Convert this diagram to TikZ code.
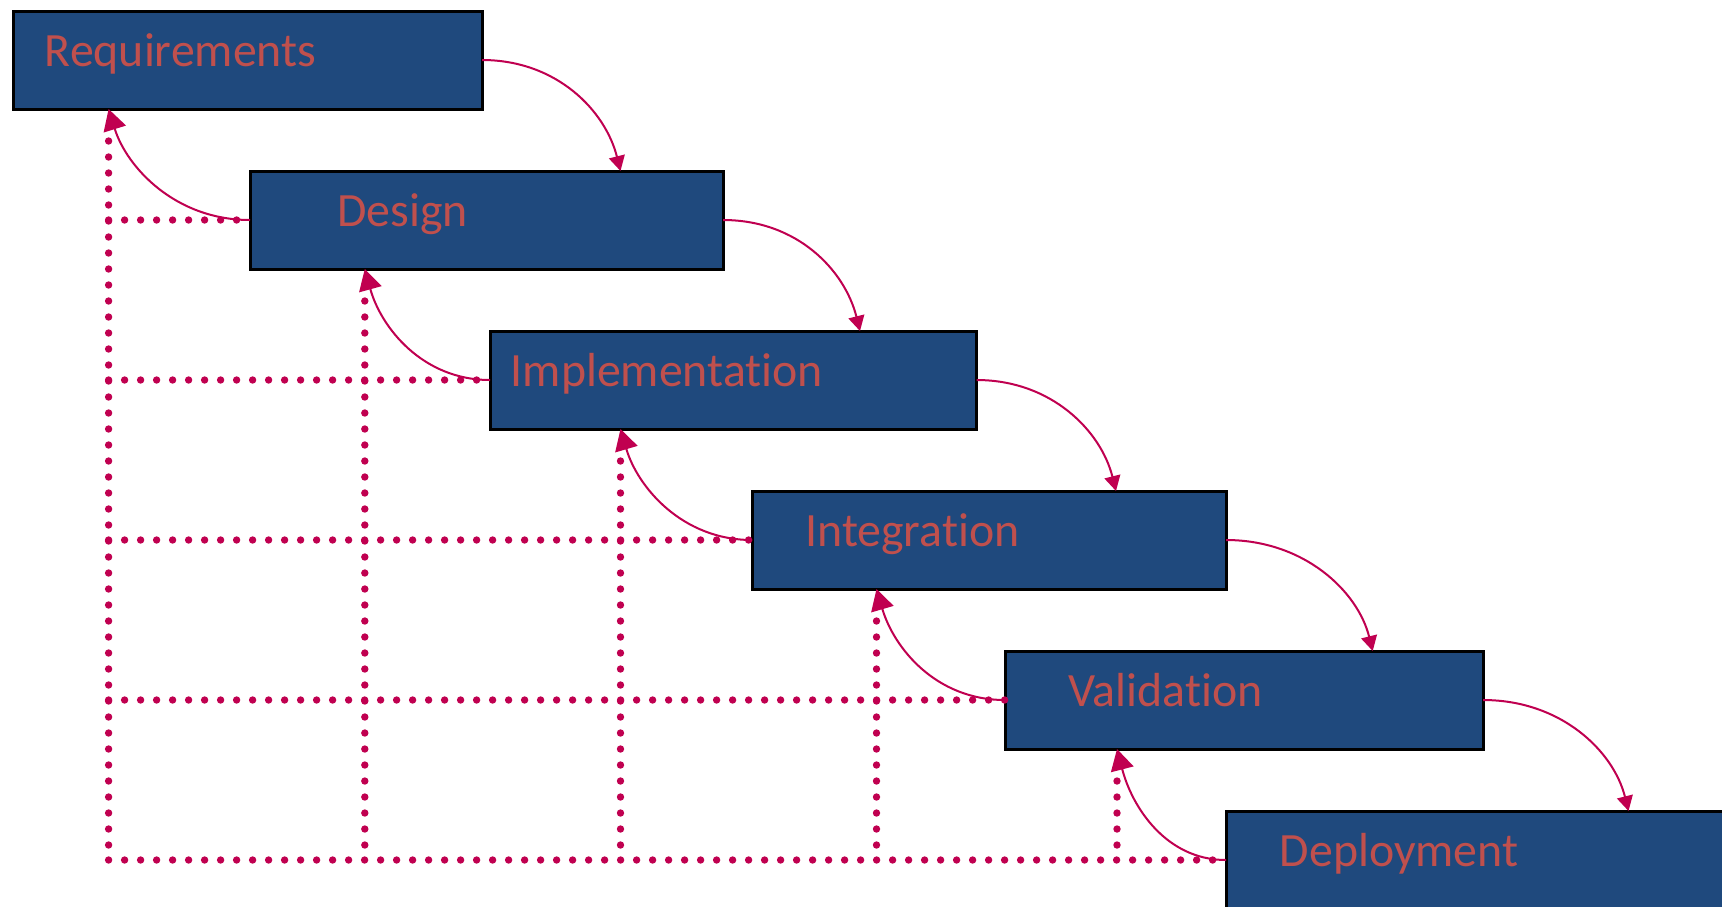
\documentclass[tikz,border=0pt]{standalone}
\usepackage{fontspec}
\newfontfamily\boxfont[Ligatures=NoCommon]{Carlito}
\usetikzlibrary{arrows.meta,calc}
\definecolor{boxblue}{RGB}{31,73,125}
\definecolor{lblred}{RGB}{192,80,77}
\definecolor{flowred}{RGB}{192,0,80}
\begin{document}
\begin{tikzpicture}[x=0.5pt,y=-0.5pt,
 box/.style={draw=black,line width=1.5pt,fill=boxblue,inner sep=0pt,outer sep=0pt,minimum height=49pt},
 lbl/.style={text=lblred,font=\boxfont\fontsize{23.9}{28}\selectfont,inner sep=0pt,anchor=base west},
 fwd/.style={draw=flowred,line width=1pt,-{Triangle[length=7.5pt,width=8pt]}},
 back/.style={draw=flowred,line width=1pt,-{Triangle[length=10.5pt,width=11.5pt]}},
 dots/.style={draw=flowred,line width=3.7pt,line cap=round,dash pattern=on 0pt off 8pt}]
\useasboundingbox (0,0) rectangle (1722,906);
\clip (0,0) rectangle (1722,906);
\fill[white] (0,0) rectangle (1722,906);
% boxes
\node[box,minimum width=234.5pt] (req) at (247.5,60) {};
\node[box,minimum width=236.5pt] (des) at (486.5,220) {};
\node[box,minimum width=243.25pt] (imp) at (733.25,380) {};
\node[box,minimum width=237pt] (int) at (989,540) {};
\node[box,minimum width=239pt] (val) at (1244,700) {};
\node[box,minimum width=300pt] (dep) at (1526,860) {};
% labels
\node[lbl] (reqt) at ($(req.north west)+(31.5,55.5)$) {Requirements};
\node[lbl] (dest) at ($(des.north west)+(87,55.5)$) {Design};
\node[lbl] (impt) at ($(imp.north west)+(20.5,55.5)$) {Implementation};
\node[lbl] (intt) at ($(int.north west)+(53,55.5)$) {Integration};
\node[lbl] (valt) at ($(val.north west)+(63,55.5)$) {Validation};
\node[lbl] (dept) at ($(dep.north west)+(53.5,55.5)$) {Deployment};
% back-arrow targets
\coordinate (reqB) at ($(req.south west)+(95.6,0)$);
\coordinate (desB) at ($(des.south west)+(114.8,0)$);
\coordinate (impB) at ($(imp.south west)+(130.5,0)$);
\coordinate (intB) at ($(int.south west)+(124.5,0)$);
\coordinate (valB) at ($(val.south west)+(112,0)$);
% forward-arrow targets
\coordinate (desT) at ($(des.north west)+(370.5,0)$);
\coordinate (impT) at ($(imp.north west)+(370,0)$);
\coordinate (intT) at ($(int.north west)+(364,0)$);
\coordinate (valT) at ($(val.north west)+(367.7,0)$);
\coordinate (depT) at ($(dep.north west)+(402.5,0)$);
% dotted grid
\foreach \c in {reqB,desB,impB,intB,valB}{
  \draw[dots] ($(\c)+(0,32)$) -- (\c |- dep.west);
}
\foreach \n in {des,imp,int,val,dep}{
  \draw[dots] (reqB |- \n.west) -- (\n.west);
}
% forward arrows
\draw[fwd] (req.east) .. controls +(75,0) and +(-15,-60) .. (desT);
\draw[fwd] (des.east) .. controls +(75,0) and +(-15,-60) .. (impT);
\draw[fwd] (imp.east) .. controls +(75,0) and +(-15,-60) .. (intT);
\draw[fwd] (int.east) .. controls +(78,0) and +(-15,-60) .. (valT);
\draw[fwd] (val.east) .. controls +(78,0) and +(-15,-60) .. (depT);
% backward arrows
\draw[back] (des.west) .. controls +(-75,0) and +(18,58) .. (reqB);
\draw[back] (imp.west) .. controls +(-68,0) and +(16,58) .. (desB);
\draw[back] (int.west) .. controls +(-70,0) and +(17,58) .. (impB);
\draw[back] (val.west) .. controls +(-70,0) and +(17,58) .. (intB);
\draw[back] (dep.west) .. controls +(-60,0) and +(15,58) .. (valB);
\end{tikzpicture}
\end{document}
